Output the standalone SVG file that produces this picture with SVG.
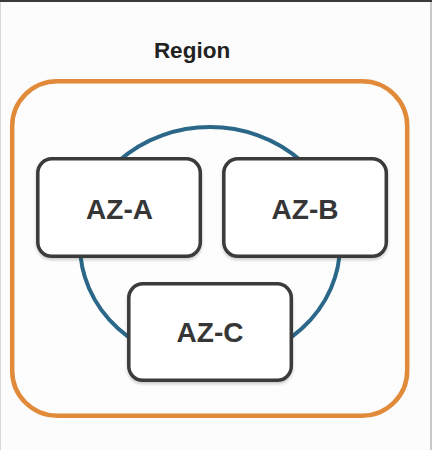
<svg xmlns="http://www.w3.org/2000/svg" width="432" height="450" viewBox="0 0 432 450">
<style>
.az rect{fill:#ffffff;stroke:#3a3a3a;stroke-width:3.5;filter:url(#sh)}
.az text{font-family:"Liberation Sans",Arial,sans-serif;font-weight:bold;font-size:28px;fill:#363636;text-anchor:middle}
</style>
<defs>
<filter id="sh" x="-10%" y="-10%" width="120%" height="130%">
<feDropShadow dx="0" dy="2" stdDeviation="1.5" flood-color="#000" flood-opacity="0.2"/>
</filter>
</defs>
<rect x="0" y="0" width="432" height="450" fill="#fcfcfc"/>
<line x1="0" y1="1" x2="432" y2="1" stroke="#3a3a3a" stroke-width="2"/>
<line x1="0.5" y1="2" x2="0.5" y2="450" stroke="#d8d8d8" stroke-width="1"/>
<line x1="431" y1="2" x2="431" y2="450" stroke="#c8c8c8" stroke-width="2"/>
<g id="region">
<rect x="12.2" y="81.2" width="395" height="334.5" rx="45" ry="45" fill="#fdfdfd" stroke="#e08a3a" stroke-width="4.5"/>
<text x="192" y="57.5" font-family="'Liberation Sans',Arial,sans-serif" font-weight="bold" font-size="22.5" fill="#222222" text-anchor="middle">Region</text>
</g>
<g id="connectors">
<ellipse cx="210" cy="245" rx="130" ry="118" fill="none" stroke="#2a6789" stroke-width="4"/>
</g>
<g id="az-a" class="az">
<rect x="37.8" y="158.8" width="162.5" height="97.5" rx="14" ry="14"/>
<text x="119.5" y="218.5">AZ-A</text>
</g>
<g id="az-b" class="az">
<rect x="223.8" y="158.8" width="162.5" height="97.5" rx="14" ry="14"/>
<text x="305" y="218.5">AZ-B</text>
</g>
<g id="az-c" class="az">
<rect x="128.8" y="283.8" width="162.5" height="96.5" rx="14" ry="14"/>
<text x="210" y="342">AZ-C</text>
</g>
</svg>
